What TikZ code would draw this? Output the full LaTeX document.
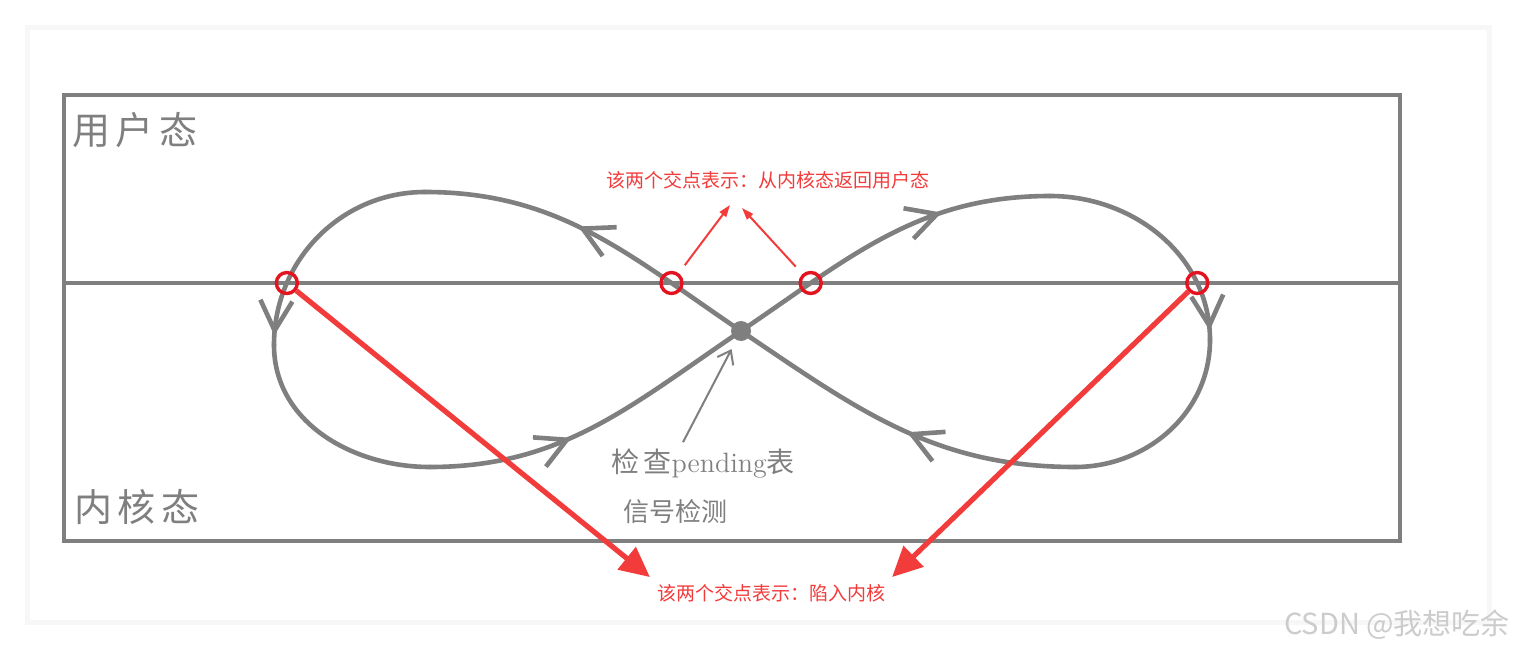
\documentclass[tikz,border=0pt]{standalone}
\usepackage{fontspec}
\newfontfamily\cjk{Noto Sans CJK SC}
\usetikzlibrary{arrows.meta,positioning,calc,intersections,decorations.markings}
\definecolor{wire}{HTML}{7F7F7F}
\definecolor{alert}{HTML}{F23B3B}
\definecolor{ring}{HTML}{E3141F}

\begin{document}
\begin{tikzpicture}[x=0.5pt,y=0.5pt,
    loop/.style={draw=wire,line width=2.3pt,line cap=round},
    flow/.style={decoration={markings,mark=at position #1 with {\arrow{Straight Barb[length=15pt,width=16pt]}}},postaction={decorate}},
    hit/.style={circle,draw=ring,line width=1.7pt,minimum size=10.5pt,inner sep=0pt},
    note/.style={text=alert,font=\cjk\fontsize{9.5}{11}\selectfont},
    state/.style={text=wire,font=\cjk\fontsize{19}{22}\selectfont},
    thin red/.style={draw=alert,line width=1pt,-{Triangle[length=6pt,width=4pt]}},
    thick red/.style={draw=alert,line width=2.6pt,-{Triangle[length=15pt,width=14pt]}}]
  \fill[white] (0,0) rectangle (1516,650);
  \useasboundingbox (0,0) rectangle (1516,650);
  % card
  \fill[black!3] (25,25) rectangle (1492,625);
  \fill[white] (30,30) rectangle (1487,620);
  % frame and border line
  \draw[wire,line width=2.1pt] (64,109) rectangle (1400,555);
  \draw[wire,line width=2.1pt,name path=mid] (64,367) -- (1400,367);

  \coordinate (c)  at (741,319);
  \coordinate (rt) at (1050,454);
  \coordinate (rr) at (1210,310);
  \coordinate (rb) at (1075,183);
  \coordinate (lt) at (425,458);
  \coordinate (ll) at (274,305);
  \coordinate (lb) at (430,183);

  % the loop
  \draw[loop,flow=0.68,name path=r1] (c) to[out=34,in=180] (rt);
  \draw[loop,flow=0.96,name path=r2] (rt) to[out=0,in=90] (rr);
  \draw[loop] (rr) to[out=-90,in=0] (rb);
  \draw[loop,flow=0.47] (rb) to[out=180,in=-34] (c);
  \draw[loop,flow=0.55,name path=l1] (c) to[out=146,in=0] (lt);
  \draw[loop,flow=0.96,name path=l2] (lt) to[out=180,in=90] (ll);
  \draw[loop] (ll) to[out=-90,in=180] (lb);
  \draw[loop,flow=0.42] (lb) to[out=0,in=214] (c);

  \path[name intersections={of=l2 and mid,by=i1}];
  \path[name intersections={of=l1 and mid,by=i2}];
  \path[name intersections={of=r1 and mid,by=i3}];
  \path[name intersections={of=r2 and mid,by=i4}];
  \node[hit] (x1) at (i1) {};
  \node[hit] (x2) at (i2) {};
  \node[hit] (x3) at (i3) {};
  \node[hit] (x4) at (i4) {};
  \node[circle,fill=wire,minimum size=10pt,inner sep=0pt] (chk) at (c) {};

  % labels
  \node[state] (user) at (135,520) {用\hspace{3pt}户\hspace{3pt}态};
  \node[state] (kern) at (137,143) {内\hspace{3pt}核\hspace{3pt}态};
  \node[text=wire,font=\fontsize{14}{16}\selectfont] (pend) at (703,186) {{\cjk 检\,查}pending{\cjk 表}};
  \node[text=wire,font=\cjk\fontsize{13}{15}\selectfont] (sig) at (675,138) {信号检测};
  \node[note] (ret) at (768,470) {该两个交点表示：从内核态返回用户态};
  \node[note] (trap) at (771,57) {该两个交点表示：陷入内核};
  \node[text=black!20,font=\cjk\fontsize{14.5}{16}\selectfont] (wm) at (1397,25) {CSDN @我想吃余};

  \coordinate (up1) at (730,445);
  \coordinate (up2) at (742,442);
  \draw[thin red,shorten <=5pt] (x2) -- (up1);
  \draw[thin red,shorten <=5pt] (x3) -- (up2);
  \draw[thick red] (x1) -- (trap.north west);
  \draw[thick red] (x4) -- (trap.north east);
  \draw[wire,line width=1pt,-{Straight Barb[length=6pt,width=9pt]},shorten >=5pt] ([xshift=-10pt]pend.north) -- (chk);
\end{tikzpicture}
\end{document}
